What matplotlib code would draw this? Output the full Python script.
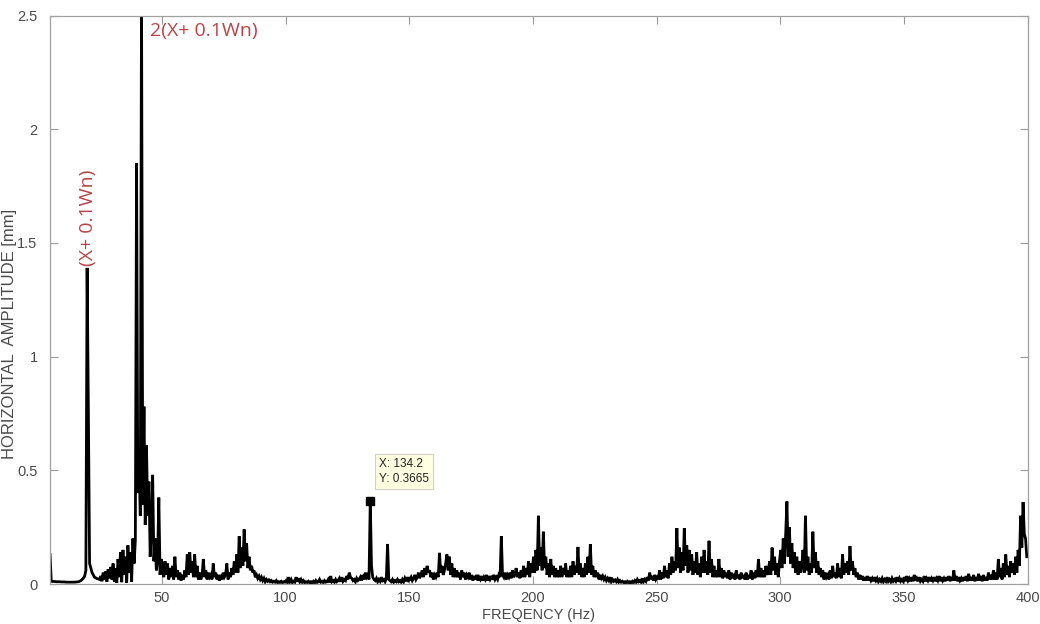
import numpy as np
import matplotlib
matplotlib.use("Agg")
import matplotlib.pyplot as plt

# spectrum amplitudes [mm], 0.5 Hz bins, one array per band
amp_005_050 = [
    0.13, 0.012, 0.011, 0.011, 0.011, 0.010, 0.010, 0.010, 0.010, 0.009,
    0.009, 0.009, 0.009, 0.008, 0.008, 0.008, 0.008, 0.008, 0.008, 0.008,
    0.008, 0.009, 0.009, 0.010, 0.012, 0.015, 0.02, 0.026, 0.035, 0.06,
    1.39, 0.77, 0.09, 0.07, 0.05, 0.04, 0.03, 0.027, 0.024, 0.022,
    0.02, 0.035, 0.012, 0.05, 0.02, 0.055, 0.01, 0.065, 0.025, 0.075,
    0.02, 0.09, 0.01, 0.07, 0.005, 0.11, 0.03, 0.14, 0.008, 0.15,
    0.04, 0.12, 0.005, 0.17, 0.05, 0.14, 0.01, 0.2, 0.09, 0.19,
    1.85, 0.4, 0.58, 0.3, 2.6, 0.35, 0.78, 0.26, 0.61, 0.3,
    0.45, 0.12, 0.25, 0.48, 0.1, 0.2, 0.06, 0.1, 0.38, 0.04,
    0.11,
]
amp_050_100 = [
    0.08, 0.03, 0.1, 0.04, 0.09, 0.02, 0.07, 0.03, 0.08, 0.02,
    0.12, 0.03, 0.06, 0.02, 0.05, 0.015, 0.04, 0.02, 0.06, 0.03,
    0.13, 0.04, 0.14, 0.05, 0.1, 0.03, 0.13, 0.03, 0.08, 0.02,
    0.05, 0.02, 0.04, 0.11, 0.03, 0.06, 0.02, 0.05, 0.03, 0.04,
    0.02, 0.09, 0.03, 0.05, 0.02, 0.04, 0.015, 0.04, 0.02, 0.05,
    0.03, 0.04, 0.09, 0.02, 0.05, 0.03, 0.07, 0.04, 0.1, 0.05,
    0.13, 0.05, 0.21, 0.07, 0.16, 0.08, 0.24, 0.1, 0.18, 0.07,
    0.12, 0.06, 0.08, 0.05, 0.06, 0.03, 0.04, 0.025, 0.035, 0.02,
    0.03, 0.015, 0.025, 0.01, 0.02, 0.012, 0.018, 0.01, 0.015, 0.008,
    0.012, 0.008, 0.015, 0.006, 0.01, 0.007, 0.012, 0.006, 0.01, 0.008,
]
amp_100_150 = [
    0.015, 0.008, 0.03, 0.01, 0.02, 0.006, 0.012, 0.008, 0.03, 0.01,
    0.025, 0.01, 0.02, 0.008, 0.015, 0.006, 0.01, 0.007, 0.012, 0.005,
    0.01, 0.006, 0.012, 0.005, 0.015, 0.007, 0.01, 0.02, 0.008, 0.012,
    0.006, 0.015, 0.008, 0.01, 0.02, 0.007, 0.035, 0.01, 0.015, 0.008,
    0.02, 0.01, 0.015, 0.025, 0.01, 0.03, 0.012, 0.02, 0.015, 0.035,
    0.02, 0.05, 0.03, 0.025, 0.015, 0.02, 0.01, 0.025, 0.015, 0.02,
    0.03, 0.015, 0.04, 0.02, 0.05, 0.03, 0.04, 0.02, 0.3665, 0.08,
    0.03, 0.02, 0.015, 0.025, 0.01, 0.02, 0.012, 0.03, 0.015, 0.02,
    0.01, 0.025, 0.176, 0.02, 0.015, 0.01, 0.02, 0.008, 0.015, 0.01,
    0.02, 0.01, 0.015, 0.008, 0.02, 0.01, 0.025, 0.012, 0.03, 0.015,
]
amp_150_200 = [
    0.02, 0.03, 0.015, 0.025, 0.04, 0.02, 0.03, 0.05, 0.025, 0.04,
    0.06, 0.03, 0.07, 0.04, 0.08, 0.05, 0.06, 0.03, 0.05, 0.02,
    0.04, 0.03, 0.05, 0.03, 0.137, 0.05, 0.08, 0.04, 0.06, 0.09,
    0.13, 0.06, 0.12, 0.04, 0.09, 0.03, 0.07, 0.03, 0.06, 0.03,
    0.05, 0.02, 0.06, 0.03, 0.05, 0.02, 0.04, 0.03, 0.05, 0.02,
    0.04, 0.015, 0.035, 0.02, 0.04, 0.015, 0.03, 0.02, 0.035, 0.015,
    0.03, 0.02, 0.04, 0.015, 0.035, 0.02, 0.03, 0.025, 0.04, 0.02,
    0.03, 0.02, 0.04, 0.03, 0.21, 0.04, 0.03, 0.05, 0.02, 0.04,
    0.03, 0.05, 0.025, 0.06, 0.03, 0.04, 0.07, 0.03, 0.05, 0.025,
    0.06, 0.03, 0.08, 0.03, 0.07, 0.04, 0.1, 0.03, 0.09, 0.05,
]
amp_200_250 = [
    0.12, 0.05, 0.15, 0.06, 0.3, 0.08, 0.16, 0.06, 0.23, 0.07,
    0.12, 0.04, 0.09, 0.03, 0.11, 0.04, 0.08, 0.03, 0.07, 0.03,
    0.06, 0.03, 0.08, 0.03, 0.07, 0.04, 0.09, 0.03, 0.06, 0.03,
    0.08, 0.03, 0.1, 0.04, 0.08, 0.05, 0.163, 0.04, 0.09, 0.03,
    0.07, 0.03, 0.09, 0.04, 0.12, 0.05, 0.175, 0.04, 0.08, 0.03,
    0.06, 0.03, 0.05, 0.02, 0.04, 0.025, 0.035, 0.02, 0.03, 0.015,
    0.025, 0.015, 0.03, 0.01, 0.02, 0.012, 0.018, 0.01, 0.02, 0.008,
    0.015, 0.008, 0.012, 0.006, 0.01, 0.005, 0.012, 0.006, 0.01, 0.005,
    0.012, 0.006, 0.015, 0.008, 0.02, 0.01, 0.015, 0.008, 0.025, 0.01,
    0.02, 0.012, 0.03, 0.015, 0.05, 0.02, 0.035, 0.015, 0.04, 0.02,
]
amp_250_300 = [
    0.03, 0.02, 0.06, 0.02, 0.05, 0.025, 0.08, 0.03, 0.06, 0.025,
    0.09, 0.04, 0.12, 0.05, 0.1, 0.06, 0.246, 0.07, 0.16, 0.05,
    0.14, 0.06, 0.245, 0.08, 0.17, 0.05, 0.15, 0.06, 0.13, 0.04,
    0.1, 0.05, 0.14, 0.04, 0.09, 0.03, 0.12, 0.05, 0.15, 0.05,
    0.1, 0.04, 0.19, 0.05, 0.11, 0.03, 0.08, 0.03, 0.06, 0.03,
    0.11, 0.03, 0.07, 0.025, 0.06, 0.03, 0.05, 0.025, 0.06, 0.02,
    0.05, 0.025, 0.045, 0.02, 0.06, 0.025, 0.04, 0.02, 0.05, 0.025,
    0.04, 0.02, 0.05, 0.02, 0.04, 0.025, 0.06, 0.02, 0.05, 0.025,
    0.06, 0.03, 0.11, 0.03, 0.07, 0.03, 0.06, 0.03, 0.08, 0.04,
    0.06, 0.1, 0.04, 0.16, 0.06, 0.12, 0.04, 0.09, 0.03, 0.1,
]
amp_300_350 = [
    0.15, 0.07, 0.2, 0.09, 0.22, 0.363, 0.12, 0.25, 0.09, 0.18,
    0.07, 0.14, 0.05, 0.12, 0.04, 0.1, 0.05, 0.08, 0.15, 0.05,
    0.3, 0.06, 0.12, 0.04, 0.09, 0.05, 0.23, 0.07, 0.14, 0.05,
    0.1, 0.04, 0.07, 0.03, 0.06, 0.02, 0.05, 0.03, 0.04, 0.02,
    0.06, 0.025, 0.08, 0.03, 0.05, 0.025, 0.09, 0.03, 0.07, 0.025,
    0.13, 0.04, 0.09, 0.05, 0.1, 0.04, 0.167, 0.06, 0.1, 0.04,
    0.07, 0.03, 0.05, 0.02, 0.04, 0.02, 0.035, 0.015, 0.03, 0.015,
    0.035, 0.015, 0.03, 0.015, 0.025, 0.012, 0.03, 0.015, 0.025, 0.01,
    0.02, 0.012, 0.025, 0.01, 0.02, 0.012, 0.03, 0.012, 0.02, 0.01,
    0.025, 0.012, 0.02, 0.012, 0.03, 0.01, 0.025, 0.012, 0.02, 0.012,
]
amp_350_400 = [
    0.03, 0.012, 0.035, 0.015, 0.025, 0.012, 0.03, 0.012, 0.04, 0.015,
    0.025, 0.012, 0.03, 0.012, 0.02, 0.012, 0.035, 0.012, 0.025, 0.015,
    0.03, 0.012, 0.025, 0.015, 0.03, 0.012, 0.025, 0.015, 0.035, 0.012,
    0.03, 0.015, 0.025, 0.012, 0.03, 0.015, 0.035, 0.012, 0.03, 0.015,
    0.06, 0.015, 0.035, 0.012, 0.03, 0.015, 0.025, 0.012, 0.03, 0.015,
    0.035, 0.012, 0.045, 0.015, 0.03, 0.015, 0.04, 0.012, 0.03, 0.015,
    0.045, 0.015, 0.035, 0.012, 0.04, 0.015, 0.03, 0.015, 0.05, 0.02,
    0.04, 0.02, 0.06, 0.02, 0.05, 0.02, 0.11, 0.03, 0.07, 0.02,
    0.09, 0.03, 0.13, 0.04, 0.08, 0.03, 0.1, 0.05, 0.09, 0.04,
    0.12, 0.05, 0.15, 0.08, 0.3, 0.16, 0.36, 0.22, 0.2, 0.12,
]
band_start = [4.7, 50.2, 100.2, 150.2, 200.2, 250.2, 300.2, 350.2]
bands = [amp_005_050, amp_050_100, amp_100_150, amp_150_200,
         amp_200_250, amp_250_300, amp_300_350, amp_350_400]

tip_freq = 134.2
tip_amp = 0.3665

x_ticks = [50, 100, 150, 200, 250, 300, 350, 400]
y_ticks = [0, 0.5, 1, 1.5, 2, 2.5]

freq = np.concatenate([s + 0.5 * np.arange(len(b)) for s, b in zip(band_start, bands)])
amp = np.concatenate([np.array(b) for b in bands])

plt.rcParams['font.family'] = ['Liberation Sans', 'DejaVu Sans']

fig = plt.figure(figsize=(10.4, 6.24), dpi=100)
ax = fig.add_axes([0.0481, 0.0641, 0.9399, 0.9110])
ax.plot(freq, amp, color='black', lw=2.0, solid_joinstyle='miter')

ax.set_xlim(4.7, 400)
ax.set_ylim(0, 2.5)
ax.set_xticks(x_ticks)
ax.set_yticks(y_ticks)
ax.set_yticklabels(['%g' % t for t in y_ticks])
ax.tick_params(direction='in', top=True, right=True, length=6, width=0.8,
               color='#9a9a9a', labelcolor='#4a4a4a', labelsize=10.5, pad=5)
ax.tick_params(axis='y', pad=9)
for sp in ax.spines.values():
    sp.set_color('#a0a0a0')
    sp.set_linewidth(0.9)

ax.set_xlabel('FREQENCY (Hz)', fontsize=10.5, color='#4a4a4a', labelpad=2)
ax.set_ylabel('HORIZONTAL  AMPLITUDE [mm]', fontsize=12, color='#4a4a4a')
ax.yaxis.set_label_coords(-0.034, 0.44)

red = '#b8434a'
ax.text(45.2, 2.43, '2(X+ 0.1Wn)', color=red, fontsize=14, family='Open Sans',
        ha='left', va='center')
ax.text(20.1, 1.61, '(X+ 0.1Wn)', color=red, fontsize=14, family='Open Sans',
        ha='center', va='center', rotation=90)

ax.plot(tip_freq, tip_amp, 's', color='black', ms=6, zorder=4)
ax.annotate('X: %.1f\nY: %.4f' % (tip_freq, tip_amp), xy=(tip_freq, tip_amp),
            xytext=(6.5, 11.5), textcoords='offset points', ha='left', va='bottom',
            fontsize=8.5, color='#222222', linespacing=1.3,
            bbox=dict(boxstyle='square,pad=0.35', fc='#ffffe1', ec='#d2d2c0', lw=0.8))

fig.savefig('out.png', dpi=100)
